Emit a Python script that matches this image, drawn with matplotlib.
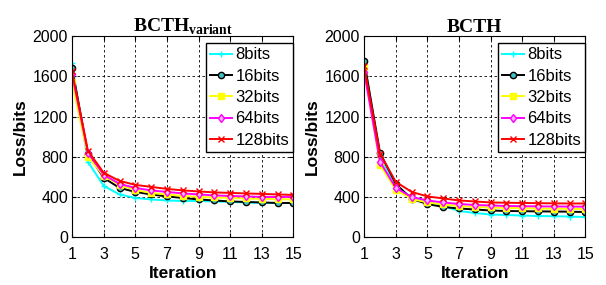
import numpy as np
import matplotlib.pyplot as plt

plt.rcParams['font.family'] = ['Liberation Sans', 'DejaVu Sans']
plt.rcParams['mathtext.fontset'] = 'custom'
plt.rcParams['mathtext.bf'] = 'Liberation Serif:bold'
plt.rcParams['mathtext.rm'] = 'Liberation Serif'

iterations = list(range(1, 16))
labels = ['8bits', '16bits', '32bits', '64bits', '128bits']

# BCTH_variant
variant = {
    '8bits':   [1730, 750, 510, 425, 390, 375, 365, 360, 360, 355, 350, 345, 340, 340, 340],
    '16bits':  [1680, 830, 590, 490, 450, 425, 405, 390, 375, 365, 355, 350, 345, 340, 340],
    '32bits':  [1540, 800, 610, 520, 470, 440, 425, 410, 400, 395, 390, 385, 380, 378, 375],
    '64bits':  [1620, 840, 620, 530, 490, 465, 450, 435, 425, 415, 410, 405, 400, 400, 400],
    '128bits': [1650, 860, 640, 560, 520, 500, 480, 465, 455, 445, 440, 435, 430, 425, 420],
}

# BCTH
bcth = {
    '8bits':   [1750, 800, 520, 390, 350, 310, 260, 240, 225, 220, 215, 210, 208, 205, 200],
    '16bits':  [1750, 840, 530, 380, 330, 300, 285, 275, 265, 260, 258, 256, 255, 253, 250],
    '32bits':  [1680, 720, 470, 380, 345, 325, 310, 300, 295, 290, 288, 285, 283, 282, 280],
    '64bits':  [1640, 750, 490, 400, 365, 345, 330, 320, 315, 310, 308, 306, 305, 304, 303],
    '128bits': [1700, 830, 550, 450, 405, 385, 365, 355, 345, 342, 340, 338, 336, 335, 335],
}

styles = {
    '8bits':   dict(color='cyan', marker='+', mfc='cyan'),
    '16bits':  dict(color='black', marker='o', mfc='#40c0c0'),
    '32bits':  dict(color='yellow', marker='s', mfc='yellow'),
    '64bits':  dict(color='magenta', marker='d', mfc='#ffb0ff'),
    '128bits': dict(color='red', marker='x', mfc='red'),
}

fig = plt.figure(figsize=(6.06, 2.85), dpi=100)
ax1 = fig.add_axes([0.119, 0.168, 0.365, 0.705])
ax2 = fig.add_axes([0.601, 0.168, 0.365, 0.705])

for ax, data in [(ax1, variant), (ax2, bcth)]:
    for lab in labels:
        st = styles[lab]
        ax.plot(iterations, data[lab], color=st['color'], marker=st['marker'],
                markerfacecolor=st['mfc'], markeredgecolor=st['color'],
                markersize=4.5, linewidth=1.4, label=lab)
    ax.set_xlim(1, 15)
    ax.set_ylim(0, 2000)
    ax.set_xticks(range(1, 16, 2))
    ax.set_yticks(range(0, 2001, 400))
    ax.grid(True, color='black', linestyle='--', linewidth=0.6, dashes=(3, 3))
    ax.tick_params(direction='in', labelsize=11.5, length=3, top=True, right=True,
                   labeltop=False, labelright=False)
    ax.tick_params(axis='x', pad=7)
    ax.tick_params(axis='y', pad=3)
    ax.set_xlabel('Iteration', fontsize=12.5, fontweight='bold', labelpad=3)
    ax.set_ylabel('Loss/bits', fontsize=12.5, fontweight='bold', labelpad=3)
    ax.legend(loc='upper right', bbox_to_anchor=(1.0, 0.965), borderaxespad=0,
              fontsize=12, handlelength=1.3, handletextpad=0.2, labelspacing=0.38,
              fancybox=False, framealpha=1, edgecolor='black', borderpad=0.25)
    for s in ax.spines.values():
        s.set_linewidth(0.8)

ax1.set_title(r'$\mathbf{BCTH}_{\mathbf{variant}}$', fontsize=14, pad=3)
ax2.set_title('BCTH', fontsize=14, fontweight='bold', pad=3,
              fontfamily='Liberation Serif')

fig.savefig('out.png', dpi=100)
